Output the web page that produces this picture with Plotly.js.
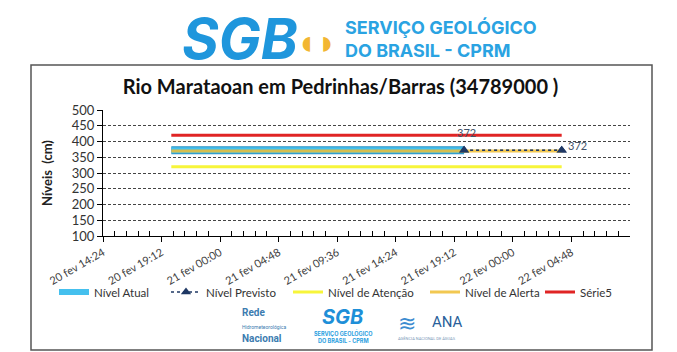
<!DOCTYPE html>
<html>
<head>
<meta charset="utf-8">
<script src="https://cdn.plot.ly/plotly-3.0.1.min.js"></script>
<style>html,body{margin:0;padding:0;background:#fff;}#chart{width:677px;height:352px;}</style>
</head>
<body>
<div id="chart"></div>
<script>
// ---- data ----
const atualTimes = [
  '2024-02-20 20:00','2024-02-20 21:00','2024-02-20 22:00','2024-02-20 23:00',
  '2024-02-21 00:00','2024-02-21 01:00','2024-02-21 02:00','2024-02-21 03:00',
  '2024-02-21 04:00','2024-02-21 05:00','2024-02-21 06:00','2024-02-21 07:00',
  '2024-02-21 08:00','2024-02-21 09:00','2024-02-21 10:00','2024-02-21 11:00',
  '2024-02-21 12:00','2024-02-21 13:00','2024-02-21 14:00','2024-02-21 15:00',
  '2024-02-21 16:00','2024-02-21 17:00','2024-02-21 18:00','2024-02-21 19:00',
  '2024-02-21 20:00'];
const atualValues = [372,372,372,372,372,372,372,372,372,372,372,372,372,
                     372,372,372,372,372,372,372,372,372,372,372,372];
const previstoTimes = ['2024-02-21 20:00','2024-02-22 04:00'];
const previstoValues = [372, 372];
const refTimes = ['2024-02-20 20:00','2024-02-22 04:00'];
const atencaoValues = [320, 320];
const alertaValues = [370, 370];
const serie5Values = [420, 420];
const tickVals = ['2024-02-20 14:24','2024-02-20 19:12','2024-02-21 00:00','2024-02-21 04:48',
                  '2024-02-21 09:36','2024-02-21 14:24','2024-02-21 19:12','2024-02-22 00:00',
                  '2024-02-22 04:48'];
const tickText = ['20 fev 14:24','20 fev 19:12','21 fev 00:00','21 fev 04:48','21 fev 09:36',
                  '21 fev 14:24','21 fev 19:12','22 fev 00:00','22 fev 04:48'];
const seriesNames = ['Nível Atual','Nível Previsto','Nível de Atenção','Nível de Alerta','Série5'];

// minor tick positions: every 57.6 min across the axis range
const axisStart = Date.UTC(2024, 1, 20, 14, 24);
const minorVals = [];
for (let k = 0; k <= 45; k++) { if (k % 5) minorVals.push(axisStart + k * 3456000); }

const FONT = 'Lato, "Open Sans", sans-serif';
const traces = [
  {x: atualTimes, y: atualValues, mode: 'lines', showlegend: false, hoverinfo: 'skip',
   line: {color: '#2a93c4', width: 8}},
  {x: atualTimes, y: atualValues, mode: 'lines', name: seriesNames[0], legend: 'legend',
   line: {color: '#45c0ee', width: 6}},
  {x: previstoTimes, y: previstoValues, mode: 'lines+markers', name: seriesNames[1], legend: 'legend2',
   line: {color: '#1f3864', width: 1.5, dash: 'dot'},
   marker: {symbol: 'triangle-up', size: 9, color: '#1f3864'}},
  {x: refTimes, y: atencaoValues, mode: 'lines', name: seriesNames[2], legend: 'legend3',
   line: {color: '#f7f53a', width: 3}},
  {x: refTimes, y: alertaValues, mode: 'lines', name: seriesNames[3], legend: 'legend4',
   line: {color: 'rgba(240,190,50,0.85)', width: 3}},
  {x: refTimes, y: serie5Values, mode: 'lines', name: seriesNames[4], legend: 'legend5',
   line: {color: '#e02424', width: 3}}
];
// keep Previsto on top
traces.push(Object.assign({}, traces[2], {showlegend: false}));

// pixel->paper helpers (plot area: x 103..630, y 110..236)
const px = v => (v - 103) / 527;
const py = v => (236 - v) / 126;

const legendBase = (left) => ({orientation: 'h', x: px(left), y: py(292), xanchor: 'left', yanchor: 'middle',
  font: {size: 11.5, color: '#333'}, itemwidth: 30, bgcolor: 'rgba(0,0,0,0)'});

const layout = {
  width: 677, height: 352,
  margin: {l: 103, r: 47, t: 110, b: 116},
  paper_bgcolor: '#fff', plot_bgcolor: '#fff',
  font: {family: FONT, color: '#404040', size: 11},
  title: {text: '<b>Rio Marataoan em Pedrinhas/Barras (34789000 )</b>', x: 0.503, xanchor: 'center',
          y: 1 - 87/352, yanchor: 'middle', font: {family: FONT, size: 20, color: '#111'}},
  xaxis: {type: 'date', range: ['2024-02-20 14:24', '2024-02-22 09:36'],
          tickvals: tickVals, ticktext: tickText, tickangle: -30,
          tickfont: {size: 11, color: '#404040'},
          showgrid: false, zeroline: false, showline: true, linecolor: '#000', linewidth: 1,
          ticks: 'outside', ticklen: 5, tickcolor: '#000',
          minor: {tickmode: 'array', tickvals: minorVals,
                  ticks: 'inside', ticklen: 5, tickcolor: '#000', showgrid: false}},
  yaxis: {range: [100, 500], dtick: 50, tick0: 100,
          tickfont: {size: 13, color: '#333'},
          showgrid: true, gridcolor: '#444', gridwidth: 1, griddash: '3px,2px',
          zeroline: false, showline: true, linecolor: '#000', linewidth: 1,
          ticks: 'outside', ticklen: 5, tickcolor: '#000',
          title: {text: '<b>Níveis  (cm)</b>', standoff: 16, font: {family: FONT, size: 13, color: '#222'}}},
  legend: legendBase(54),
  legend2: legendBase(166),
  legend3: legendBase(288),
  legend4: legendBase(425),
  legend5: legendBase(540),
  showlegend: true,
  shapes: [
    {type: 'rect', xref: 'paper', yref: 'paper', x0: px(31), x1: px(652), y0: py(350), y1: py(65),
     line: {color: '#555', width: 1.5}, layer: 'below'}
  ],
  annotations: [
    {x: previstoTimes[0], y: previstoValues[0], xref: 'x', yref: 'y', text: String(previstoValues[0]),
     showarrow: false, yshift: 18, xshift: 2, font: {size: 11, color: '#44546a'}},
    {x: previstoTimes[1], y: previstoValues[1], xref: 'x', yref: 'y', text: String(previstoValues[1]),
     showarrow: false, xanchor: 'left', xshift: 4, yshift: 5, font: {size: 11, color: '#44546a'}},
    // top logo (text approximation)
    {xref: 'paper', yref: 'paper', x: px(240), y: py(39), text: '<i><b>SGB</b></i>', showarrow: false,
     xanchor: 'center', yanchor: 'middle', font: {family: 'Inter, sans-serif', size: 56, color: '#1f96dc', weight: 900}},
    {xref: 'paper', yref: 'paper', x: px(316), y: py(40), text: '◖◗', showarrow: false,
     xanchor: 'center', yanchor: 'middle', font: {size: 34, color: '#f2b632'}},
    {xref: 'paper', yref: 'paper', x: px(343), y: py(39),
     text: '<b>SERVIÇO GEOLÓGICO</b><br><b>DO BRASIL - CPRM</b>', showarrow: false, align: 'left',
     xanchor: 'left', yanchor: 'middle', font: {family: 'Inter, sans-serif', size: 18, color: '#2aa3e2', weight: 900}},
    // bottom logos
    {xref: 'paper', yref: 'paper', x: px(240), y: py(325),
     text: '<b>Rede</b><br><span style="font-size:5px">Hidrometeorológica</span><br><b>Nacional</b>',
     showarrow: false, align: 'left', xanchor: 'left', yanchor: 'middle',
     font: {family: 'Roboto, sans-serif', size: 10, color: '#3c7cb0'}},
    {xref: 'paper', yref: 'paper', x: px(343), y: py(317), text: '<i><b>SGB</b></i>', showarrow: false,
     xanchor: 'center', yanchor: 'middle', font: {family: 'Inter, sans-serif', size: 20, color: '#1e8fd8', weight: 900}},
    {xref: 'paper', yref: 'paper', x: px(343), y: py(336),
     text: '<b>SERVIÇO GEOLÓGICO<br>DO BRASIL - CPRM</b>', showarrow: false,
     xanchor: 'center', yanchor: 'middle', font: {family: 'Inter, sans-serif', size: 5.5, color: '#2aa0e0'}},
    {xref: 'paper', yref: 'paper', x: px(430), y: py(322), text: 'ANA', showarrow: false,
     xanchor: 'left', yanchor: 'middle', font: {family: 'Roboto, sans-serif', size: 15, color: '#2a5f9a'}},
    {xref: 'paper', yref: 'paper', x: px(396), y: py(322), text: '≋', showarrow: false,
     xanchor: 'left', yanchor: 'middle', font: {size: 22, color: '#3c8cd0'}},
    {xref: 'paper', yref: 'paper', x: px(396), y: py(338), text: 'AGÊNCIA NACIONAL DE ÁGUAS', showarrow: false,
     xanchor: 'left', yanchor: 'middle', font: {family: 'Roboto, sans-serif', size: 4, color: '#7a98b8'}}
  ]
};

Plotly.newPlot('chart', traces, layout, {staticPlot: true, displayModeBar: false});
</script>
</body>
</html>
